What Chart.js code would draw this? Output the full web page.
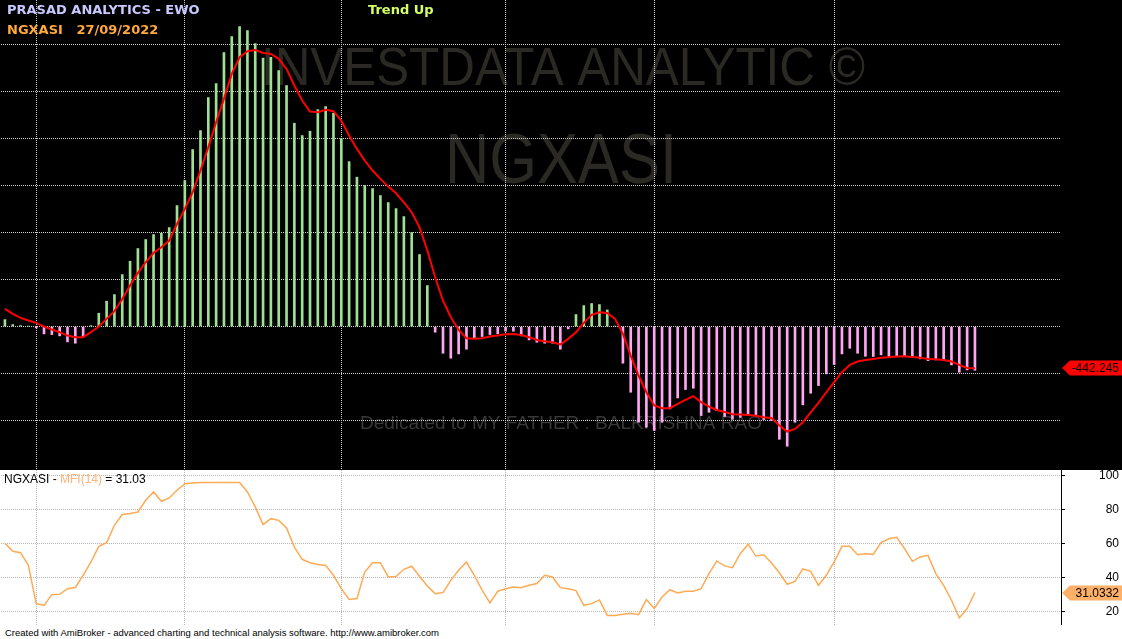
<!DOCTYPE html>
<html>
<head>
<meta charset="utf-8">
<script src="https://cdn.jsdelivr.net/npm/chart.js@4.4.0/dist/chart.umd.min.js"></script>
<style>
  body { margin: 0; background: #fff; }
  #wrap { position: relative; width: 1122px; height: 639px; overflow: hidden; background: #fff; }
  #topBox { position: absolute; left: 0; top: 0; width: 1122px; height: 470px; background: #000; }
  #botBox { position: absolute; left: 0; top: 470px; width: 1122px; height: 155px; background: #fff; }
  canvas { display: block; }
  .t { position: absolute; font-family: "Liberation Sans", Arial, sans-serif; white-space: pre; line-height: 1; }
  .b { font-family: "DejaVu Sans", sans-serif; font-weight: bold; font-size: 13px; }
</style>
</head>
<body>
<div id="wrap">
  <div id="topBox"><canvas id="ewoChart" width="1122" height="470"></canvas></div>
  <div id="botBox"><canvas id="mfiChart" width="1122" height="155"></canvas></div>
  <div class="t b" style="left:7px;top:3px;color:#c8c8ff">PRASAD ANALYTICS - EWO</div>
  <div class="t b" style="left:7px;top:23px;color:#ffa83c">NGXASI   27/09/2022</div>
  <div class="t b" style="left:368px;top:3px;color:#d4ff6a">Trend Up</div>
  <div class="t" id="mfiTitle" style="left:4px;top:473px;font-size:12px;color:#000"></div>
  <div class="t" style="left:5px;top:628px;font-size:9.5px;color:#000">Created with AmiBroker - advanced charting and technical analysis software. http://www.amibroker.com</div>
</div>
<script>
// EWO histogram (bars), signal line and MFI(14), one value per trading day, last = 27/09/2022
const ewo = [74, 21, 10, 5, -15, -78, -85, -99, -163, -177,
  -113, 10, 142, 270, 340, 553, 695, 830, 926, 979,
  993, 1053, 1287, 1553, 1883, 2085, 2436, 2585, 2915, 3085,
  3191, 3149, 3011, 2855, 2865, 2723, 2564, 2163, 2032, 2078,
  2308, 2340, 2270, 2000, 1755, 1589, 1500, 1468, 1394, 1319,
  1255, 1170, 1000, 766, 436, -60, -284, -337, -291, -241,
  -121, -106, -85, -78, -50, -50, -99, -142, -167, -177,
  -177, -241, -25, 128, 223, 245, 234, 177, 5, -390,
  -699, -1018, -1071, -1106, -1018, -876, -759, -670, -656, -947,
  -912, -894, -957, -986, -965, -947, -947, -989, -1000, -1199,
  -1273, -1018, -833, -709, -628, -503, -404, -291, -231, -284,
  -316, -319, -301, -319, -319, -309, -326, -344, -362, -355,
  -362, -408, -486, -461, -465];

const signal = [188, 135, 92, 64, 39, 0, -32, -60, -96, -113,
  -113, -60, 0, 82, 163, 294, 436, 571, 684, 784,
  844, 915, 1092, 1252, 1429, 1660, 1908, 2174, 2422, 2688,
  2865, 2929, 2943, 2911, 2901, 2848, 2741, 2564, 2404, 2287,
  2280, 2305, 2291, 2191, 2032, 1890, 1766, 1660, 1571, 1489,
  1418, 1322, 1216, 1057, 809, 525, 277, 99, -35, -124,
  -130, -124, -106, -96, -82, -78, -89, -113, -142, -156,
  -167, -191, -131, -60, 39, 124, 152, 145, 82, -78,
  -309, -521, -699, -840, -869, -869, -823, -780, -741, -805,
  -851, -887, -908, -933, -936, -940, -950, -965, -972, -1053,
  -1117, -1089, -1018, -912, -812, -699, -592, -486, -408, -372,
  -355, -344, -333, -326, -319, -316, -323, -333, -344, -348,
  -355, -372, -408, -440, -442.245];

const mfi = [60, 55.3, 54.5, 47, 24.5, 23.5, 29.8, 30, 33.3, 34,
  41.2, 49, 58.2, 60.4, 70.6, 76.9, 77.5, 78.4, 85.3, 90.2,
  84.7, 86.7, 91.2, 95.1, 95.5, 95.7, 95.7, 95.7, 95.7, 95.7,
  95.7, 90.2, 81.4, 71, 74.5, 73.5, 69, 57.8, 50.6, 48.6,
  47.5, 47, 41.2, 33.3, 27, 27.5, 43.1, 48.6, 48.6, 40.2,
  40.4, 44.7, 46.5, 40.6, 34.9, 30.4, 31, 38.2, 44.1, 49,
  41.2, 32.4, 24.9, 31.8, 33.3, 34.3, 33.9, 35.3, 36.3, 41.2,
  40.2, 33.9, 33.3, 32.2, 23.5, 24.5, 26.7, 17.6, 17.6, 18.2,
  18.8, 18, 26.9, 21.6, 28.4, 32.7, 30.8, 31.8, 31.8, 33.3,
  42.2, 49.6, 46.7, 45.7, 53.9, 59.4, 52.5, 53.3, 48.4, 42.7,
  35.9, 37.6, 44.9, 43.5, 35.3, 41.2, 49, 58.2, 58.2, 53.3,
  53.9, 53.5, 60.4, 62.7, 63.5, 56.9, 49.4, 52, 52.9, 42.2,
  35.3, 26.5, 16.1, 21.6, 31.0332];

// first bar of each month (Apr..Sep) -> vertical grid lines
const monthStarts = [4, 23, 43, 64, 83, 106];
const ewoTicks = [-1000, -500, 0, 500, 1000, 1500, 2000, 2500, 3000];
const mfiTicks = [20, 40, 60, 80, 100];

const pts = arr => arr.map((v, i) => ({ x: i, y: v }));
const lastOf = arr => arr[arr.length - 1];

document.getElementById('mfiTitle').innerHTML =
  'NGXASI - <span style="color:#ffb27a">MFI(14)</span> = ' + lastOf(mfi).toFixed(2);

const watermark = {
  id: 'watermark',
  beforeDraw(chart) {
    const c = chart.ctx;
    c.save();
    c.fillStyle = '#2b2924';
    c.font = '53px "Liberation Sans"';
    c.fillText('INVESTDATA ANALYTIC ©', 261, 85, 604);
    c.font = '70px "Liberation Sans"';
    c.fillText('NGXASI', 445, 183, 232);
    c.fillStyle = '#383838';
    c.font = '19px "Liberation Sans"';
    c.fillText('Dedicated to MY FATHER : BALKRISHNA RAO', 360, 429, 402);
    c.restore();
  }
};

function valueTag(dsIndex, text, fill) {
  return {
    id: 'tag' + dsIndex,
    afterDraw(chart) {
      const meta = chart.getDatasetMeta(dsIndex);
      const y = Math.round(meta.data[meta.data.length - 1].y);
      const x0 = chart.chartArea.right + 1, w = chart.width;
      const c = chart.ctx;
      c.save();
      c.fillStyle = fill;
      c.beginPath();
      c.moveTo(x0, y);
      c.lineTo(x0 + 8, y - 7.5);
      c.lineTo(w, y - 7.5);
      c.lineTo(w, y + 7.5);
      c.lineTo(x0 + 8, y + 7.5);
      c.closePath();
      c.fill();
      c.fillStyle = '#000';
      c.font = '12px "Liberation Sans"';
      c.textAlign = 'right';
      c.textBaseline = 'middle';
      c.fillText(text, w - 3, y + 1);
      c.restore();
    }
  };
}

const noPad = s => { s.paddingTop = 0; s.paddingBottom = 0; s.paddingLeft = 0; s.paddingRight = 0; };

const xScale = (gridColor) => ({
  type: 'linear',
  min: -0.5,
  max: 135,
  offset: false,
  afterBuildTicks: s => { s.ticks = monthStarts.map(v => ({ value: v })); },
  afterFit: s => { s.height = 0; noPad(s); },
  ticks: { display: false },
  grid: { color: gridColor, drawTicks: false, offset: false },
  border: { display: false, dash: [1, 1] }
});

new Chart(document.getElementById('ewoChart'), {
  type: 'bar',
  data: {
    datasets: [
      {
        type: 'line',
        data: pts(signal),
        borderColor: '#ff0000',
        borderWidth: 2,
        pointRadius: 0,
        order: 0
      },
      {
        type: 'bar',
        data: pts(ewo),
        backgroundColor: c => (c.parsed && c.parsed.y < 0) ? '#ffa6f2' : '#9ee094',
        barThickness: 2,
        order: 1
      }
    ]
  },
  options: {
    responsive: false,
    animation: false,
    devicePixelRatio: 1,
    layout: { autoPadding: false, padding: { left: 1, right: 3, top: 0, bottom: 0 } },
    plugins: { legend: { display: false }, tooltip: { enabled: false } },
    scales: {
      x: xScale('#d0d0d0'),
      y: {
        position: 'right',
        min: -1526,
        max: 3474,
        afterBuildTicks: s => { s.ticks = ewoTicks.map(v => ({ value: v })); },
        afterFit: s => { s.width = 58; noPad(s); },
        ticks: { display: false },
        grid: { color: '#d0d0d0', drawTicks: false },
        border: { display: false, dash: [1, 1] }
      }
    }
  },
  plugins: [watermark, valueTag(0, lastOf(signal).toFixed(3), '#ff0000')]
});

new Chart(document.getElementById('mfiChart'), {
  type: 'line',
  data: {
    datasets: [{
      data: pts(mfi),
      borderColor: '#ffaa55',
      borderWidth: 1.5,
      pointRadius: 0
    }]
  },
  options: {
    responsive: false,
    animation: false,
    devicePixelRatio: 1,
    layout: { autoPadding: false, padding: { left: 1, right: 3, top: 0, bottom: 0 } },
    plugins: { legend: { display: false }, tooltip: { enabled: false } },
    scales: {
      x: xScale('#b4b4b4'),
      y: {
        position: 'right',
        min: 11.94,
        max: 103.12,
        afterBuildTicks: s => { s.ticks = mfiTicks.map(v => ({ value: v })); },
        afterFit: s => { s.width = 58; noPad(s); },
        ticks: {
          crossAlign: 'far',
          color: '#000',
          font: { family: '"Liberation Sans"', size: 12 }
        },
        grid: { color: '#b4b4b4', tickColor: '#000', tickLength: 4, tickBorderDash: [] },
        border: { display: true, color: '#000', width: 1, dash: [1, 1] }
      }
    }
  },
  plugins: [valueTag(0, lastOf(mfi).toFixed(4), '#ffb068')]
});
</script>
</body>
</html>
